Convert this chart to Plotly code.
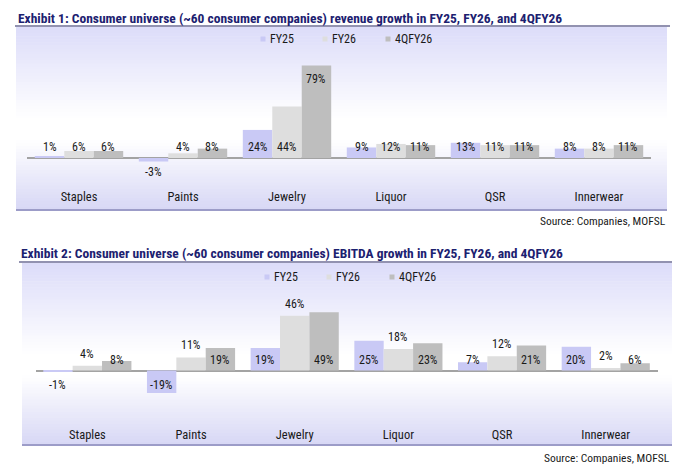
import plotly.graph_objects as go

categories = ['Staples', 'Paints', 'Jewelry', 'Liquor', 'QSR', 'Innerwear']
series_names = ['FY25', 'FY26', '4QFY26']

# Exhibit 1: revenue growth (%)
revenue_fy25 = [1, -3, 24, 9, 13, 8]
revenue_fy26 = [6, 4, 44, 12, 11, 8]
revenue_4qfy26 = [6, 8, 79, 11, 11, 11]

# Exhibit 2: EBITDA growth (%)
ebitda_fy25 = [-1, -19, 19, 25, 7, 20]
ebitda_fy26 = [4, 11, 46, 18, 12, 2]
ebitda_4qfy26 = [8, 19, 49, 23, 21, 6]

titles = [
    'Exhibit 1: Consumer universe (~60 consumer companies) revenue growth in FY25, FY26, and 4QFY26',
    'Exhibit 2: Consumer universe (~60 consumer companies) EBITDA growth in FY25, FY26, and 4QFY26',
]
source_text = 'Source: Companies, MOFSL'

# the page has the browser's default 8px body margin, so the figure is
# made smaller and everything is positioned in window pixels minus that
PAGE_W, PAGE_H = 680, 473
OFF = 8
W, H = PAGE_W - OFF, PAGE_H - OFF
FONT = 'Liberation Sans Narrow, Arial Narrow, Roboto Condensed, sans-serif'
BAR_COLORS = ['#C9C9F5', '#DEDEDE', '#BEBEBE']
TITLE_COLOR = '#1C2170'
LAVENDER_TOP = (220, 220, 249)
LAVENDER_BOTTOM = (215, 215, 245)
BARGAP = 0.15


def fx(px):
    return (px - OFF) / W


def fy(py):
    return 1 - (py - OFF) / H


def mix(c1, c2, t):
    return tuple(round(a + (b - a) * t) for a, b in zip(c1, c2))


def gradient_shapes(x0, y0, x1, y1, n=60):
    # vertical gradient: lavender -> white -> lavender, built from thin strips
    stops = [(0.0, LAVENDER_TOP), (0.5, (255, 255, 255)), (0.62, (255, 255, 255)), (1.0, LAVENDER_BOTTOM)]
    shapes = []
    step = (y1 - y0) / n
    for k in range(n):
        t = (k + 0.5) / n
        for (t0, c0), (t1, c1) in zip(stops, stops[1:]):
            if t0 <= t <= t1:
                c = mix(c0, c1, (t - t0) / (t1 - t0))
                break
        shapes.append(dict(
            type='rect', xref='paper', yref='paper', layer='below',
            x0=fx(x0), x1=fx(x1), y0=fy(y0 + k * step), y1=fy(min(y0 + (k + 1) * step + 0.6, y1)),
            fillcolor='rgb(%d,%d,%d)' % c, line=dict(width=0),
        ))
    return shapes


charts = [
    dict(values=[revenue_fy25, revenue_fy26, revenue_4qfy26], title_y=18, title_x=16,
         rule=(15, 26, 670), panel=(16, 27, 667, 210), plot=(27, 50, 651, 187),
         zero=158, scale=1.17, legend_x=[263, 325, 388], legend_y=39, source=(668, 221)),
    dict(values=[ebitda_fy25, ebitda_fy26, ebitda_4qfy26], title_y=253, title_x=19,
         rule=(19, 262, 672), panel=(22, 263, 672, 445), plot=(35.5, 285, 657.6, 425),
         zero=370.5, scale=1.19, legend_x=[267, 329, 392], legend_y=277, source=(672, 458)),
]


def label_mode(chart_no, series_no, v):
    if chart_no == 1 and series_no == 1:
        return 'outside'
    if v > 60:
        return 'end'
    return 'base'


fig = go.Figure()
shapes, annotations = [], []
layout = {}

for c, ch in enumerate(charts):
    sfx = '' if c == 0 else str(c + 1)
    xa, ya = 'x' + sfx, 'y' + sfx
    px0, py0, px1, py1 = ch['plot']

    for j, vals in enumerate(ch['values']):
        fig.add_trace(go.Bar(
            x=categories, y=vals, name=series_names[j],
            marker=dict(color=BAR_COLORS[j], line=dict(width=0)),
            xaxis=xa, yaxis=ya, showlegend=False, hoverinfo='skip',
        ))

    bar_w = (px1 - px0) / len(categories) * (1 - BARGAP) / 3
    for j, vals in enumerate(ch['values']):
        for i, v in enumerate(vals):
            mode = label_mode(c, j, v)
            if mode == 'base':
                y, ys = 0, (11 if v >= 0 else -14)
            elif mode == 'end':
                y, ys = v, -13
            else:
                y, ys = v, 12
            annotations.append(dict(
                x=categories[i], y=y, xref=xa, yref=ya, text=f'{v}%', showarrow=False,
                xshift=(j - 1) * bar_w, yshift=ys,
                font=dict(family=FONT, size=12, color='#1A1A1A'),
            ))

    y_top = (ch['zero'] - py0) / ch['scale']
    y_bot = -(py1 - ch['zero']) / ch['scale']
    layout['xaxis' + sfx] = dict(
        domain=[fx(px0), fx(px1)], anchor=ya, showgrid=False, showline=False, ticks='',
        tickfont=dict(family=FONT, size=12.5, color='#1A1A1A'), fixedrange=True,
    )
    layout['yaxis' + sfx] = dict(
        domain=[fy(py1), fy(py0)], anchor=xa, range=[y_bot, y_top], showgrid=False,
        showticklabels=False, showline=False, zeroline=True, zerolinecolor='#A3A3A3',
        zerolinewidth=1.5, fixedrange=True,
    )

    # legend: small squares with labels
    ly = ch['legend_y']
    for j, lx in enumerate(ch['legend_x']):
        shapes.append(dict(type='rect', xref='paper', yref='paper',
                           x0=fx(lx - 2.5), x1=fx(lx + 2.5), y0=fy(ly + 2.5), y1=fy(ly - 2.5),
                           fillcolor=BAR_COLORS[j], line=dict(width=0)))
        annotations.append(dict(
            x=fx(lx + 5), y=fy(ly), xref='paper', yref='paper', xanchor='left', yanchor='middle',
            showarrow=False, text=series_names[j],
            font=dict(family=FONT, size=12, color='#1A1A1A'),
        ))

    bx0, by0, bx1, by1 = ch['panel']
    shapes += gradient_shapes(bx0, by0, bx1, by1)
    rx0, ry, rx1 = ch['rule']
    shapes.append(dict(type='line', xref='paper', yref='paper', x0=fx(rx0), x1=fx(rx1),
                       y0=fy(ry), y1=fy(ry), line=dict(color='#6E6E96', width=1.5)))
    shapes.append(dict(type='line', xref='paper', yref='paper', x0=fx(bx0), x1=fx(bx1),
                       y0=fy(by1), y1=fy(by1), line=dict(color='#9C9CC8', width=2)))

    annotations.append(dict(
        x=fx(ch['title_x']), y=fy(ch['title_y']), xref='paper', yref='paper',
        xanchor='left', yanchor='middle', showarrow=False,
        text='<b>%s</b>' % titles[c],
        font=dict(family=FONT, size=13.5, color=TITLE_COLOR),
    ))
    sx, sy = ch['source']
    annotations.append(dict(
        x=fx(sx), y=fy(sy), xref='paper', yref='paper', xanchor='right', yanchor='middle',
        showarrow=False, text=source_text,
        font=dict(family=FONT, size=11.5, color='#1A1A1A'),
    ))

fig.update_layout(
    width=W, height=H, margin=dict(l=0, r=0, t=0, b=0),
    paper_bgcolor='white', plot_bgcolor='rgba(0,0,0,0)',
    barmode='group', bargap=BARGAP, bargroupgap=0,
    shapes=shapes, annotations=annotations, **layout,
)

fig.write_html('out.html')
